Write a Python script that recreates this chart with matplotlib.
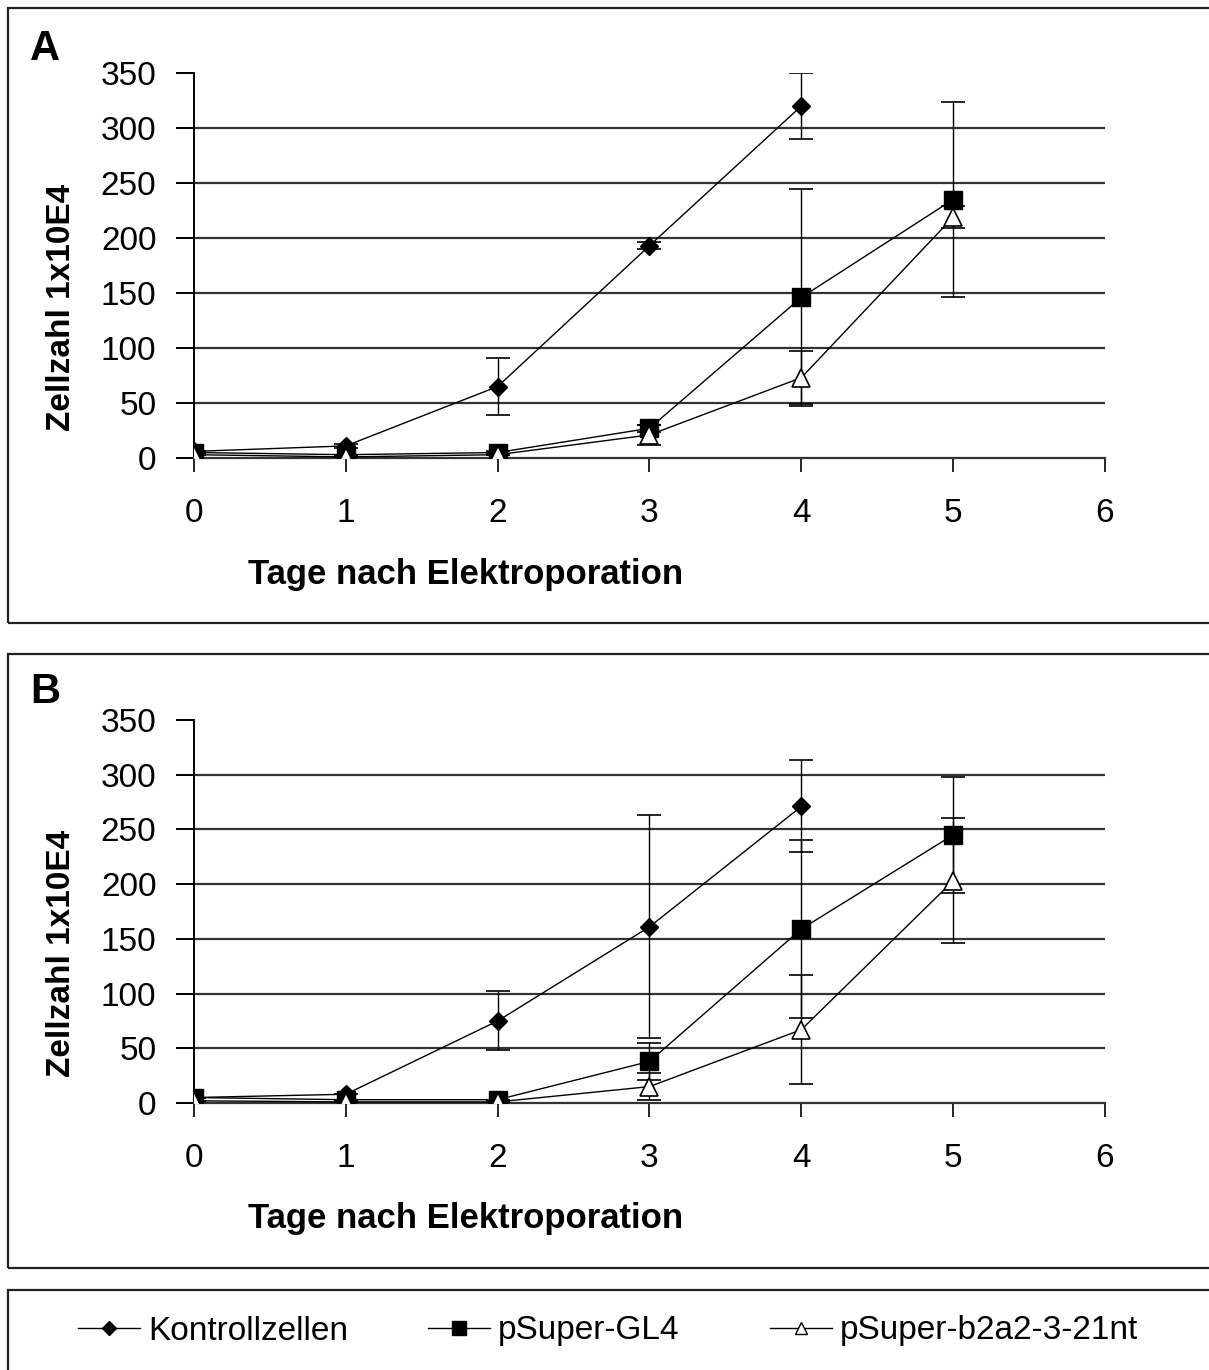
import matplotlib
matplotlib.use("Agg")
import matplotlib.pyplot as plt
from matplotlib.patches import Rectangle
from matplotlib.lines import Line2D

plt.rcParams['font.family'] = ['Liberation Sans', 'DejaVu Sans']

# ---- data ----
days = [0, 1, 2, 3, 4, 5]
days_k = [0, 1, 2, 3, 4]
series_labels = ["Kontrollzellen", "pSuper-GL4", "pSuper-b2a2-3-21nt"]

kontroll_A = [6, 11, 65, 193, 320]
kontroll_A_err = [0, 2, 26, 3, 30]
gl4_A = [5, 3, 5, 27, 146, 235]
gl4_A_err = [0, 0, 1, 3, 99, 89]
tri_A = [3, 1, 3, 21, 73, 219]
tri_A_err = [0, 0, 0, 9, 24, 10]

kontroll_B = [5, 8, 75, 161, 271]
kontroll_B_err = [0, 0, 27, 102, 42]
gl4_B = [5, 3, 3, 38, 159, 245]
gl4_B_err = [0, 0, 0, 17, 81, 53]
tri_B = [2, 1, 1, 15, 67, 203]
tri_B_err = [0, 0, 0, 12, 50, 57]

y_ticks = [0, 50, 100, 150, 200, 250, 300, 350]
x_ticks = [0, 1, 2, 3, 4, 5, 6]
ylabel = "Zellzahl 1x10E4"
xlabel = "Tage nach Elektroporation"

W, H = 1209, 1370
fig = plt.figure(figsize=(W / 100, H / 100), dpi=100)


def px_rect(x0, y0, x1, y1):
    return [x0 / W, 1 - y1 / H, (x1 - x0) / W, (y1 - y0) / H]


def frame(y_top, y_bot):
    r = Rectangle((8 / W, 1 - y_bot / H), 2.0, (y_bot - y_top) / H,
                  transform=fig.transFigure, fill=False, lw=1.6,
                  edgecolor='#222222', clip_on=False)
    fig.add_artist(r)


frame(8, 623)
frame(654, 1268)
frame(1290, 1500)

common_err = dict(ecolor='black', elinewidth=1.0, capsize=8.5, capthick=1.2)


def draw_panel(ax, k, ke, g, ge, t, te, letter, letter_y):
    ax.set_xlim(0, 6)
    ax.set_ylim(0, 350)
    for v in y_ticks[1:-1]:
        ax.axhline(v, color='#333333', lw=1.6, zorder=1)
    ax.errorbar(days_k, k, yerr=ke, color='black', lw=1.0, marker='D',
                markersize=9, markerfacecolor='black', markeredgecolor='black',
                zorder=3, **common_err)
    ax.errorbar(days, g, yerr=ge, color='black', lw=1.0, marker='s',
                markersize=13.5, markerfacecolor='black', markeredgecolor='black',
                zorder=4, **common_err)
    ax.errorbar(days, t, yerr=te, color='black', lw=1.0, marker='^',
                markersize=13.5, markerfacecolor='white', markeredgecolor='black',
                markeredgewidth=1.2, zorder=5, **common_err)
    for s in ['top', 'right']:
        ax.spines[s].set_visible(False)
    ax.spines['left'].set_linewidth(1.4)
    ax.spines['bottom'].set_linewidth(1.6)
    ax.spines['bottom'].set_color('#333333')
    ax.set_yticks(y_ticks)
    ax.set_xticks(x_ticks)
    ax.tick_params(axis='y', length=13, width=1.4, pad=14, labelsize=24)
    ax.tick_params(axis='x', length=10, width=1.2, pad=19, labelsize=24)
    ax.set_ylabel(ylabel, fontsize=24, fontweight='bold')
    ax.yaxis.set_label_coords(-0.128, 0.39)
    ax.set_xlabel(xlabel, fontsize=25, fontweight='bold')
    ax.xaxis.set_label_coords(0.2986, -0.259)
    fig.text(30 / W, 1 - letter_y / H, letter, fontsize=30, fontweight='bold',
             ha='left', va='baseline')


axA = fig.add_axes(px_rect(194, 73, 1105, 458))
axA.patch.set_alpha(0)
draw_panel(axA, kontroll_A, kontroll_A_err, gl4_A, gl4_A_err, tri_A, tri_A_err, "A", 60)

axB = fig.add_axes(px_rect(194, 720, 1105, 1103))
axB.patch.set_alpha(0)
draw_panel(axB, kontroll_B, kontroll_B_err, gl4_B, gl4_B_err, tri_B, tri_B_err, "B", 703)

handles = [
    Line2D([], [], color='black', lw=1.0, marker='D', markersize=7,
           markerfacecolor='black'),
    Line2D([], [], color='black', lw=1.0, marker='s', markersize=10,
           markerfacecolor='black'),
    Line2D([], [], color='black', lw=1.0, marker='^', markersize=9,
           markerfacecolor='white', markeredgecolor='black'),
]
legend_x = [78, 428, 770]
for h, lab, x0 in zip(handles, series_labels, legend_x):
    leg = fig.legend([h], [lab], loc='center left',
                     bbox_to_anchor=(x0 / W, 1 - 1331 / H), frameon=False,
                     fontsize=24, handlelength=1.85, handletextpad=0.25,
                     borderpad=0, borderaxespad=0)

fig.savefig("out.png", dpi=100, facecolor='white')
